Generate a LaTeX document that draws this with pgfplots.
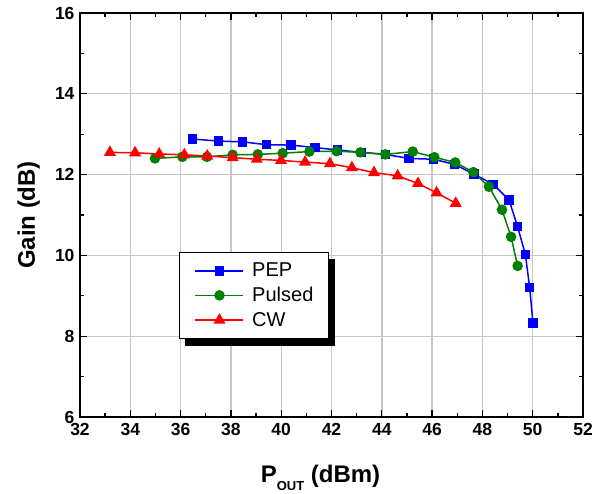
\documentclass[border=0pt]{standalone}
\usepackage{fontspec}
\setmainfont{Liberation Sans}
\usepackage{pgfplots}
\pgfplotsset{compat=1.18}
\definecolor{pgreen}{RGB}{0,128,0}
\begin{document}
\begin{tikzpicture}
\path[use as bounding box] (-80bp,-77bp) rectangle (523bp,417bp);
\begin{axis}[
  at={(0,0)}, anchor=south west,
  scale only axis, width=503bp, height=404bp,
  xmin=32, xmax=52, ymin=6, ymax=16,
  xtick={32,34,...,52}, ytick={6,8,...,16},
  minor x tick num=1, minor y tick num=1,
  tick align=inside, tick pos=both,
  major tick length=7bp, minor tick length=4bp,
  every tick/.style={black, line width=1.3bp},
  axis line style={line width=1.8bp},
  grid=major,
  major grid style={color=black!22, line width=1.4bp},
  /pgf/number format/assume math mode=true,
  tick label style={font=\bfseries\fontsize{17.5bp}{20bp}\selectfont},
  xticklabel style={anchor=base, yshift=-18bp},
  yticklabel style={anchor=east, xshift=-2bp},
  xlabel={P\raisebox{-8bp}{\fontsize{13bp}{13bp}\selectfont OUT} (dBm)},
  ylabel={Gain (dB)},
  label style={font=\bfseries\fontsize{24bp}{28bp}\selectfont},
  xlabel style={at={([xshift=-11bp,yshift=-65bp]rel axis cs:0.5,0)}, anchor=base},
  ylabel style={at={([xshift=-45bp]rel axis cs:0,0.5)}, anchor=base},
  legend style={name=leg, at={(axis cs:35.95,10.09)}, anchor=north west,
    draw=black, line width=0.8bp, fill=white,
    font=\fontsize{20bp}{24bp}\selectfont,
    inner xsep=13bp, inner ysep=9bp, row sep=5bp},
  legend cell align=left,
  legend image code/.code={\path (0bp,0bp) (56bp,0bp);
    \draw[line width=1.5bp, mark repeat=2,mark phase=2] plot coordinates {(2bp,0bp) (26bp,0bp) (50bp,0bp)};},
]
\addplot[color=blue, line width=1.5bp, mark=square*, mark size=4bp, mark options={solid}] coordinates {
(36.48,12.88) (37.50,12.83) (38.47,12.81) (39.42,12.74) (40.39,12.73) (41.34,12.67)
(42.23,12.61) (43.20,12.55) (44.14,12.50) (45.08,12.40) (46.06,12.38) (46.90,12.25)
(47.67,12.01) (48.43,11.76) (49.06,11.37) (49.40,10.71) (49.71,10.02) (49.88,9.20) (50.01,8.33)
};
\addlegendentry{PEP}
\addplot[color=pgreen, line width=1.5bp, mark=*, mark size=4.5bp, mark options={solid}] coordinates {
(34.98,12.40) (36.07,12.44) (37.05,12.44) (38.07,12.49) (39.07,12.50) (40.06,12.53)
(41.12,12.57) (42.20,12.58) (43.15,12.55) (44.14,12.50) (45.23,12.57) (46.09,12.43)
(46.92,12.30) (47.64,12.06) (48.26,11.70) (48.78,11.13) (49.14,10.46) (49.40,9.74)
};
\addlegendentry{Pulsed}
\addplot[color=red, line width=1.5bp, mark=triangle*, mark size=5.5bp, mark options={solid}] coordinates {
(33.19,12.55) (34.19,12.54) (35.15,12.51) (36.15,12.49) (37.06,12.46) (38.07,12.42)
(39.03,12.38) (39.99,12.35) (40.95,12.31) (41.94,12.27) (42.81,12.17) (43.69,12.05)
(44.63,11.97) (45.44,11.78) (46.18,11.55) (46.94,11.29)
};
\addlegendentry{CW}
\end{axis}
\fill[black] ([yshift=-7bp]leg.north east) rectangle ([xshift=6bp,yshift=-7bp]leg.south east);
\fill[black] ([xshift=6bp,yshift=-7bp]leg.south west) rectangle (leg.south east);
\end{tikzpicture}
\end{document}
